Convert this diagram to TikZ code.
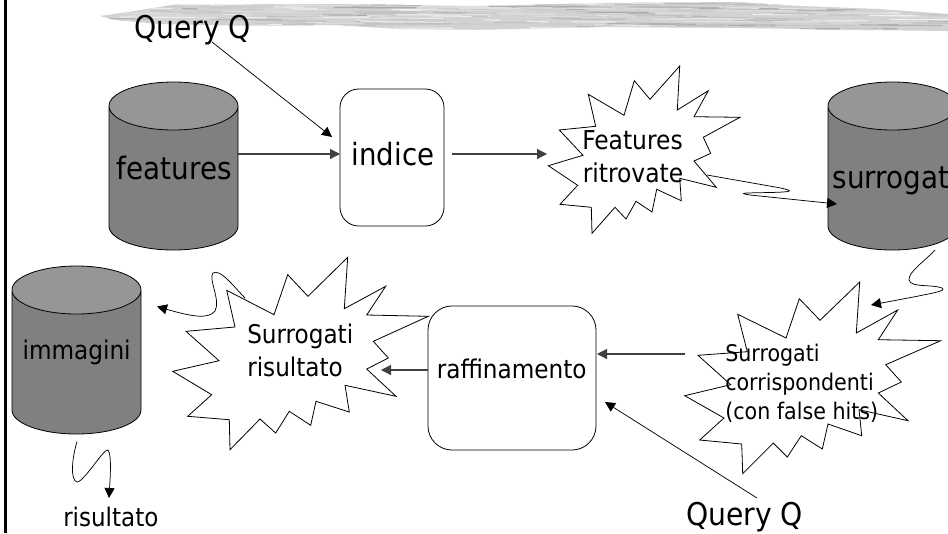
\documentclass[tikz,border=0pt]{standalone}
\usepackage{fontspec}
\setmainfont{DejaVu Sans Condensed}
\usetikzlibrary{shapes.geometric,arrows.meta}
\definecolor{cylbody}{HTML}{808080}
\definecolor{cyltop}{HTML}{969696}
\definecolor{brushbase}{HTML}{D2D2D2}
\definecolor{conn}{HTML}{404040}
% text on a box of fixed size: #1 sideways shift, #2 baseline above the box's centre
\newcommand{\placed}[3]{\raisebox{#2}[10pt][10pt]{\makebox[60pt]{\hspace{#1}#3}}}
\tikzset{
  px/.style={x=0.75pt,y=-0.75pt},
  cyl/.style={cylinder,shape border rotate=90,draw=black,line width=0.6pt,aspect=0.6,
    minimum width=96.75pt,minimum height=126pt,inner sep=0pt,anchor=shape center,
    cylinder uses custom fill,cylinder body fill=cylbody,cylinder end fill=cyltop},
  procbox/.style={draw=black,line width=0.6pt,fill=white,rounded corners=14pt,inner sep=0pt},
  burst/.style={draw=black,line width=0.6pt,fill=white,line join=miter,miter limit=20},
  lab/.style={inner sep=0pt,anchor=base west,align=left},
  arr/.style={-{Triangle[length=7.5pt,width=7.5pt]},line width=0.55pt,black},
  harr/.style={-{Triangle[length=7.5pt,width=7.5pt]},line width=0.9pt,conn},
}
\begin{document}
\begin{tikzpicture}[px]
\useasboundingbox (0,0) rectangle (948,533);
\fill[white] (0,0) rectangle (948,533);
% brush stroke
\begin{scope}
\clip (100,16) -- (135,11) -- (173,5) -- (333,4) -- (474,6) -- (600,3) -- (734,2) -- (800,6) -- (880,9) -- (948,14)
  -- (948,31) -- (860,30) -- (740,28) -- (600,27) -- (474,30) -- (400,29) -- (333,25) -- (250,26) -- (160,24) -- (115,20) -- cycle;
\fill[brushbase] (90,0) rectangle (948,35);
\pgfmathsetseed{11}
\foreach \i in {1,...,300}{
  \pgfmathsetmacro{\sx}{100+rnd*840}
  \pgfmathsetmacro{\sy}{3+rnd*27}
  \pgfmathsetmacro{\sl}{15+rnd*70}
  \pgfmathsetmacro{\sg}{int(6+rnd*28)}
  \draw[line width=0.9pt,black!\sg!white] (\sx,\sy) -- ++(\sl,0.4);
}
\end{scope}
% left border
\draw[line width=2pt,black] (5.5,0) -- (5.5,533);

% cylinders
\node[cyl] (features) at (173.5,166) {\fontsize{23.2pt}{28pt}\selectfont\placed{1.1pt}{-1.1pt}{features}};
\node[cyl] (surrogati) at (892.5,166) {\fontsize{23.2pt}{28pt}\selectfont\placed{-2.6pt}{-7.9pt}{surrogat}};
\node[cyl] (immagini) at (76.5,350) {\fontsize{19.3pt}{24pt}\selectfont\placed{0.3pt}{1.9pt}{immagini}};

% boxes
\node[procbox,minimum width=78pt,minimum height=102.75pt] (indice) at (392,157.5) {\fontsize{23pt}{28pt}\selectfont\placed{1.5pt}{-6.2pt}{indice}};
\node[procbox,rounded corners=18pt,minimum width=126pt,minimum height=108pt] (raffinamento) at (512,378) {\fontsize{19.3pt}{24pt}\selectfont\placed{-0.4pt}{0pt}{raffinamento}};

% bursts
\draw[burst] (679.7,66) -- (677.3,110) -- (708.3,90.7) -- (694,116.7) -- (740,117.3) -- (703.3,137.3) -- (710.7,153.3) -- (694,161) -- (716.3,187.3) -- (679.7,178.3) -- (681.3,200.7) -- (656.7,189.3) -- (652,212) -- (636,201.3) -- (626,219) -- (615,207.3) -- (592,233.3) -- (591.3,207.3) -- (560,204.3) -- (577.7,185.3) -- (548.3,165.7) -- (583,155.3) -- (559.3,130) -- (595.7,126.3) -- (588.3,94.3) -- (624,115.3) -- (634.3,80.7) -- (650,99.3) -- cycle;
\draw[burst] (347.7,257.3) -- (344.3,308.7) -- (385.7,286.3) -- (366.7,315) -- (428.3,316.3) -- (373.3,341.3) -- (388.3,358) -- (366.7,369) -- (396,396.3) -- (345,385.3) -- (349.3,412) -- (316,401.3) -- (310.7,425.3) -- (289.3,411.3) -- (275.7,433) -- (260,419) -- (230,449.7) -- (229.3,419.7) -- (187.7,416.3) -- (211.7,394.7) -- (172.7,371.3) -- (219,360.7) -- (186,331.3) -- (235,327) -- (226.7,290.3) -- (274,314.7) -- (287.7,274.7) -- (308,296.3) -- cycle;
\draw[burst] (859.7,282) -- (856.3,333) -- (897.7,310) -- (878.3,339.7) -- (940.7,340.7) -- (885.7,364.7) -- (901.3,382) -- (878.3,393) -- (908,420.7) -- (859,409.7) -- (861.7,435.7) -- (828,424) -- (822.3,449) -- (801.3,435.7) -- (787.3,457) -- (773.3,443) -- (742.7,473.7) -- (741.7,444) -- (699.7,440) -- (724,418) -- (684.7,395.7) -- (730.7,384.7) -- (698,355.3) -- (747.3,351.7) -- (737.7,314.3) -- (786,338) -- (799.3,298.7) -- (820,320.3) -- cycle;

% free connector ends
\coordinate (q1a) at (212,42);
\coordinate (q1b) at (332,137);
\coordinate (fa) at (237,154);
\coordinate (fb) at (340,154);
\coordinate (ia) at (452,154);
\coordinate (ib) at (547,154);
\coordinate (s3a) at (685,354);
\coordinate (s3b) at (597,354);
\coordinate (ra) at (428,370);
\coordinate (rb) at (381,370);
\coordinate (q2a) at (757,498);
\coordinate (q2b) at (605,402);
\coordinate (w1a) at (707,175);
\coordinate (w1b) at (837,204);
\coordinate (w2a) at (935,250);
\coordinate (w2b) at (871,305);
\coordinate (w3a) at (245,298);
\coordinate (w3b) at (157,306.5);
\coordinate (w4a) at (77,441.5);
\coordinate (w4b) at (109,498);

% straight connectors
\draw[arr] (q1a) -- (q1b);
\draw[harr] (fa) -- (fb);
\draw[harr] (ia) -- (ib);
\draw[harr] (s3a) -- (s3b);
\draw[harr] (ra) -- (rb);
\draw[arr] (q2a) -- (q2b);

% wavy connectors
\draw[arr] (w1a) -- (778,187.5) .. controls (796,191) and (792,192) .. (770,192.5) .. controls (742,193) and (738,193) .. (750,195) -- (w1b);
\draw[arr] (w2a) .. controls (925,261) and (908,272) .. (909,280) .. controls (911,288) and (932,284) .. (942,288) .. controls (946,291) and (940,292) .. (w2b);
\draw[arr] (w3a) .. controls (235,288) and (220,268) .. (213,273) .. controls (208,279) and (221,300) .. (215,311) .. controls (208,320) and (190,316) .. (w3b);
\draw[arr] (w4a) .. controls (72,458) and (70,480) .. (77,482) .. controls (84,482) and (104,448) .. (108,450) .. controls (112,455) and (110,480) .. (w4b);

% labels
\node[lab,font=\fontsize{23.5pt}{28pt}\selectfont] (query1) at (134,38) {Query Q};
\node[lab,font=\fontsize{23.5pt}{28pt}\selectfont] (query2) at (686,525) {Query Q};
\node[lab,font=\fontsize{19.5pt}{24pt}\selectfont] (fr1) at (582,149) {Features};
\node[lab,font=\fontsize{19.5pt}{24pt}\selectfont] (fr2) at (582.5,182) {ritrovate};
\node[lab,font=\fontsize{19.3pt}{24pt}\selectfont] (sr1) at (247,343) {Surrogati};
\node[lab,font=\fontsize{19.3pt}{24pt}\selectfont] (sr2) at (247,376) {risultato};
\node[lab,font=\fontsize{17.2pt}{21pt}\selectfont] (sc1) at (725,361) {Surrogati};
\node[lab,font=\fontsize{17.2pt}{21pt}\selectfont] (sc2) at (725,390) {corrispondenti};
\node[lab,font=\fontsize{17.2pt}{21pt}\selectfont] (sc3) at (725,419) {(con false hits)};
\node[lab,font=\fontsize{19.2pt}{24pt}\selectfont] (ris) at (63,526) {risultato};
\end{tikzpicture}
\end{document}
